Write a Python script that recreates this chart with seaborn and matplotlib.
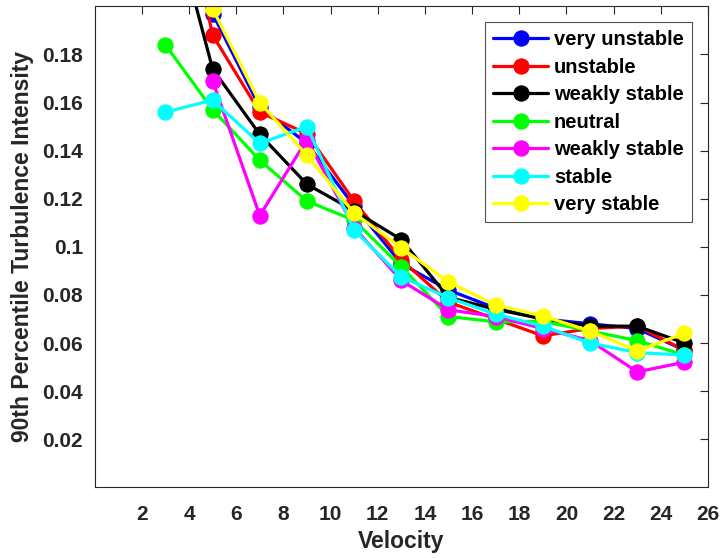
import numpy as np
import pandas as pd
import matplotlib
matplotlib.use('Agg')
import matplotlib.pyplot as plt
import seaborn as sns

# Data
velocity = [3, 5, 7, 9, 11, 13, 15, 17, 19, 21, 23, 25]

very_unstable = [0.290, 0.197, 0.158, 0.143, 0.117, 0.093, 0.082, 0.0745, 0.070, 0.068, 0.066, 0.057]
unstable = [0.280, 0.188, 0.156, 0.147, 0.119, 0.0946, 0.077, 0.070, 0.063, 0.066, 0.067, 0.057]
weakly_stable_1 = [0.248, 0.174, 0.1467, 0.126, 0.115, 0.103, 0.079, 0.074, 0.070, 0.067, 0.067, 0.060]
neutral = [0.184, 0.157, 0.136, 0.119, 0.111, 0.0917, 0.071, 0.0688, 0.069, 0.065, 0.061, 0.055]
weakly_stable_2 = [np.nan, 0.169, 0.113, 0.1446, 0.108, 0.086, 0.0738, 0.071, 0.066, 0.061, 0.048, 0.052]
stable = [0.156, 0.161, 0.143, 0.150, 0.107, 0.0875, 0.0788, 0.072, 0.067, 0.060, 0.056, 0.055]
very_stable = [0.270, 0.199, 0.160, 0.138, 0.114, 0.0996, 0.0854, 0.0758, 0.0712, 0.065, 0.0567, 0.064]

series_names = ['very unstable', 'unstable', 'weakly stable', 'neutral',
                'weakly stable', 'stable', 'very stable']
series_values = [very_unstable, unstable, weakly_stable_1, neutral,
                 weakly_stable_2, stable, very_stable]
series_colors = ['#0000ff', '#ff0000', '#000000', '#00ff00', '#ff00ff', '#00ffff', '#ffff00']

x_ticks = [2, 4, 6, 8, 10, 12, 14, 16, 18, 20, 22, 24, 26]
y_ticks = [0.02, 0.04, 0.06, 0.08, 0.10, 0.12, 0.14, 0.16, 0.18]

# Set the theme, then the fonts (after set_theme)
sns.set_theme(style='white')
plt.rcParams['font.family'] = ['Liberation Sans', 'DejaVu Sans']
plt.rcParams['font.weight'] = 'bold'
plt.rcParams['axes.labelweight'] = 'bold'

text_color = '#262626'

fig = plt.figure(figsize=(7.21, 5.58), dpi=100)
ax = fig.add_axes([0.1313, 0.1267, 0.8506, 0.862])

# Draw each series
for name, vals, col in zip(series_names, series_values, series_colors):
    df = pd.DataFrame({'Velocity': velocity, 'TI': vals}).dropna()
    sns.lineplot(data=df, x='Velocity', y='TI', color=col, marker='o', markersize=11,
                 markeredgecolor=col, markerfacecolor=col, linewidth=2.3, label=name, ax=ax)

# Axis limits and ticks
ax.set_xlim(0, 26)
ax.set_ylim(0, 0.2)
ax.set_xticks(x_ticks)
ax.set_yticks(y_ticks)
ax.set_yticklabels([f'{v:g}' for v in y_ticks])
ax.tick_params(direction='in', length=6, width=0.8, top=True, right=True,
               labelsize=15, colors=text_color, labelcolor=text_color)
ax.tick_params(axis='x', pad=13)
ax.tick_params(axis='y', pad=8.5)
for spine in ax.spines.values():
    spine.set_color(text_color)
    spine.set_linewidth(0.8)

# Labels
ax.set_xlabel('Velocity', fontsize=16.5, color=text_color, fontweight='bold', labelpad=4)
ax.set_ylabel('90th Percentile Turbulence Intensity', fontsize=16.5, color=text_color,
              fontweight='bold', labelpad=6)

# Legend
leg = ax.legend(loc='upper right', fontsize=14.5, frameon=True, fancybox=False,
                handlelength=2.7, borderaxespad=0.8, labelspacing=0.42, handletextpad=0.3,
                borderpad=0.4)
leg.get_frame().set_edgecolor(text_color)
leg.get_frame().set_linewidth(0.8)
for t in leg.get_texts():
    t.set_fontweight('bold')
    t.set_color('black')

plt.savefig('out.png', dpi=100)
